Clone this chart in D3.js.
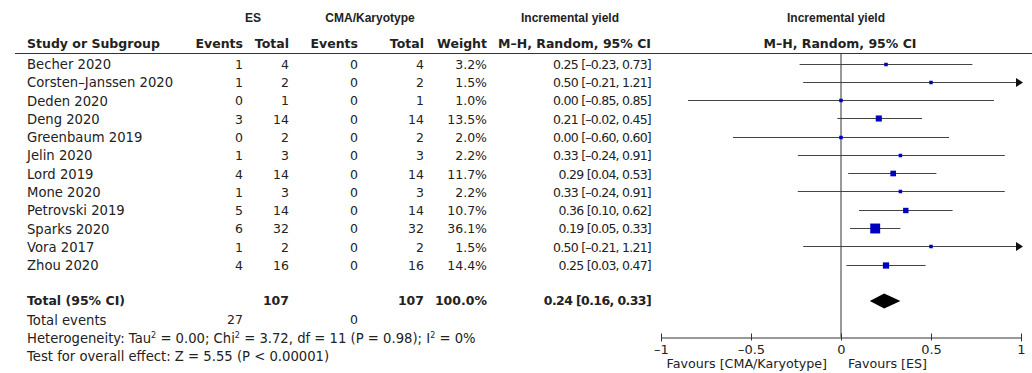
<!DOCTYPE html>
<html>
<head>
<meta charset="utf-8">
<script src="https://cdn.jsdelivr.net/npm/d3@7"></script>
<style>
  body { margin: 0; background: #fff; }
  text { font-family: "DejaVu Sans", sans-serif; font-size: 13.2px; fill: #222; }
  .bold { font-weight: bold; font-size: 12.5px; }
  .num { font-size: 12.5px; }
  .cinum { font-size: 12.5px; letter-spacing: -0.75px; }
  .hdr { font-family: "Liberation Sans", Arial, sans-serif; font-weight: bold; font-size: 12px; }
  .fav { font-size: 12.7px; }
  .ci { stroke: #444; stroke-width: 1; }
  .axis text { font-family: "DejaVu Sans", sans-serif; font-size: 13px; fill: #222; }
  .axis path, .axis line { stroke: #333; }
</style>
</head>
<body>
<div id="chart"></div>
<script>
// study data
var studies = ["Becher 2020", "Corsten–Janssen 2020", "Deden 2020", "Deng 2020", "Greenbaum 2019",
  "Jelin 2020", "Lord 2019", "Mone 2020", "Petrovski 2019", "Sparks 2020", "Vora 2017", "Zhou 2020"];
var esEvents = [1, 1, 0, 3, 0, 1, 4, 1, 5, 6, 1, 4];
var esTotal = [4, 2, 1, 14, 2, 3, 14, 3, 14, 32, 2, 16];
var cmaEvents = [0, 0, 0, 0, 0, 0, 0, 0, 0, 0, 0, 0];
var cmaTotal = [4, 2, 1, 14, 2, 3, 14, 3, 14, 32, 2, 16];
var weights = [3.2, 1.5, 1.0, 13.5, 2.0, 2.2, 11.7, 2.2, 10.7, 36.1, 1.5, 14.4];
var est = [0.25, 0.50, 0.00, 0.21, 0.00, 0.33, 0.29, 0.33, 0.36, 0.19, 0.50, 0.25];
var lower = [-0.23, -0.21, -0.85, -0.02, -0.60, -0.24, 0.04, -0.24, 0.10, 0.05, -0.21, 0.03];
var upper = [0.73, 1.21, 0.85, 0.45, 0.60, 0.91, 0.53, 0.91, 0.62, 0.33, 1.21, 0.47];

var pooled = {est: 0.24, lo: 0.16, hi: 0.33};
var axisTicks = [-1, -0.5, 0, 0.5, 1];

var width = 1032, height = 373;

var svg = d3.select("#chart").append("svg")
  .attr("width", width)
  .attr("height", height);

var x = d3.scaleLinear().domain([-1, 1]).range([661, 1021]);
var y = d3.scaleLinear().domain([0, studies.length - 1]).range([64.5, 265.5]);

function fmt2(v) { return (v < 0 ? "–" : "") + Math.abs(v).toFixed(2); }
function ciText(i) { return fmt2(est[i]) + " [" + fmt2(lower[i]) + ", " + fmt2(upper[i]) + "]"; }

// column right edges
var cols = {esE: 243, esT: 289, cmaE: 358, cmaT: 424, w: 487, ci: 651};

function txt(xx, yy, s, anchor, cls) {
  return svg.append("text").attr("x", xx).attr("y", yy).attr("dy", "0.35em")
    .attr("text-anchor", anchor || "start").attr("class", cls || null).text(s);
}

// headers
txt(253, 18, "ES", "middle", "hdr");
txt(370, 18, "CMA/Karyotype", "middle", "hdr");
txt(570, 18, "Incremental yield", "middle", "hdr");
txt(836, 18, "Incremental yield", "middle", "hdr");

txt(27, 44, "Study or Subgroup", "start", "bold");
txt(cols.esE, 44, "Events", "end", "bold");
txt(cols.esT, 44, "Total", "end", "bold");
txt(cols.cmaE, 44, "Events", "end", "bold");
txt(cols.cmaT, 44, "Total", "end", "bold");
txt(cols.w, 44, "Weight", "end", "bold");
txt(cols.ci, 44, "M–H, Random, 95% CI", "end", "bold");
txt(840, 44, "M–H, Random, 95% CI", "middle", "bold");

svg.append("line").attr("x1", 15).attr("x2", 1032).attr("y1", 53.5).attr("y2", 53.5)
  .attr("stroke", "#333").attr("stroke-width", 1);

// table rows
studies.forEach(function(s, i) {
  var yy = y(i);
  txt(27, yy, s);
  txt(cols.esE, yy, esEvents[i], "end", "num");
  txt(cols.esT, yy, esTotal[i], "end", "num");
  txt(cols.cmaE, yy, cmaEvents[i], "end", "num");
  txt(cols.cmaT, yy, cmaTotal[i], "end", "num");
  txt(cols.w, yy, weights[i].toFixed(1) + "%", "end", "num");
  txt(cols.ci, yy, ciText(i), "end", "cinum");
});

// totals
var yTot = 301, yEv = 320, yHet = 338, yTest = 356;
txt(27, yTot, "Total (95% CI)", "start", "bold");
txt(cols.esT, yTot, d3.sum(esTotal), "end", "bold");
txt(cols.cmaT, yTot, d3.sum(cmaTotal), "end", "bold");
txt(cols.w, yTot, "100.0%", "end", "bold");
txt(cols.ci, yTot, fmt2(pooled.est) + " [" + fmt2(pooled.lo) + ", " + fmt2(pooled.hi) + "]", "end", "bold")
  .style("letter-spacing", "-0.6px");

txt(27, yEv, "Total events");
txt(cols.esE, yEv, d3.sum(esEvents), "end", "num");
txt(cols.cmaE, yEv, d3.sum(cmaEvents), "end", "num");

var het = svg.append("text").attr("x", 27).attr("y", yHet).attr("dy", "0.35em");
function sup(t) {
  het.append("tspan").attr("dy", "-5").style("font-size", "8px").text("2");
  het.append("tspan").attr("dy", "5").text(t);
}
het.append("tspan").text("Heterogeneity: Tau");
sup(" = 0.00; Chi");
sup(" = 3.72, df = 11 (P = 0.98); I");
sup(" = 0%");

txt(27, yTest, "Test for overall effect: Z = 5.55 (P < 0.00001)");

// forest plot
var plot = svg.append("g");

plot.append("line")
  .attr("x1", x(0)).attr("x2", x(0))
  .attr("y1", 53.5).attr("y2", 337)
  .attr("stroke", "#333");

var xmin = x.domain()[0], xmax = x.domain()[1];

studies.forEach(function(s, i) {
  var yy = Math.round(y(i)) - 0.5;
  var lo = Math.max(lower[i], xmin), hi = Math.min(upper[i], xmax);
  plot.append("line").attr("class", "ci")
    .attr("x1", x(lo)).attr("x2", x(hi)).attr("y1", yy).attr("y2", yy);
  if (upper[i] > xmax) {
    plot.append("path")
      .attr("d", "M" + (x(xmax) + 2) + "," + yy + "l-7,-4.5l0,9z")
      .attr("fill", "#111");
  }
  if (lower[i] < xmin) {
    plot.append("path")
      .attr("d", "M" + (x(xmin) - 2) + "," + yy + "l7,-4.5l0,9z")
      .attr("fill", "#111");
  }
  var side = Math.max(3.5, 1.65 * Math.sqrt(weights[i]));
  plot.append("rect")
    .attr("x", x(est[i]) - side / 2).attr("y", yy - side / 2)
    .attr("width", side).attr("height", side)
    .attr("fill", "#0000c0");
});

// pooled diamond
plot.append("path")
  .attr("d", "M" + x(pooled.lo) + "," + yTot + "L" + x(pooled.est) + "," + (yTot - 7.5) +
    "L" + x(pooled.hi) + "," + yTot + "L" + x(pooled.est) + "," + (yTot + 7.5) + "Z")
  .attr("fill", "#000");

// x axis
var axis = plot.append("g").attr("class", "axis")
  .attr("transform", "translate(0,337.5)")
  .call(d3.axisBottom(x).tickValues(axisTicks).tickSizeOuter(0).tickSize(4)
    .tickFormat(function(d) { return d < 0 ? "–" + Math.abs(d) : String(d); }));
axis.selectAll(".tick line").attr("y1", -4).attr("y2", 3);
axis.selectAll(".tick text").attr("y", 7);

txt(827, 364, "Favours [CMA/Karyotype]", "end", "fav");
txt(848, 364, "Favours [ES]", "start", "fav");
</script>
</body>
</html>
